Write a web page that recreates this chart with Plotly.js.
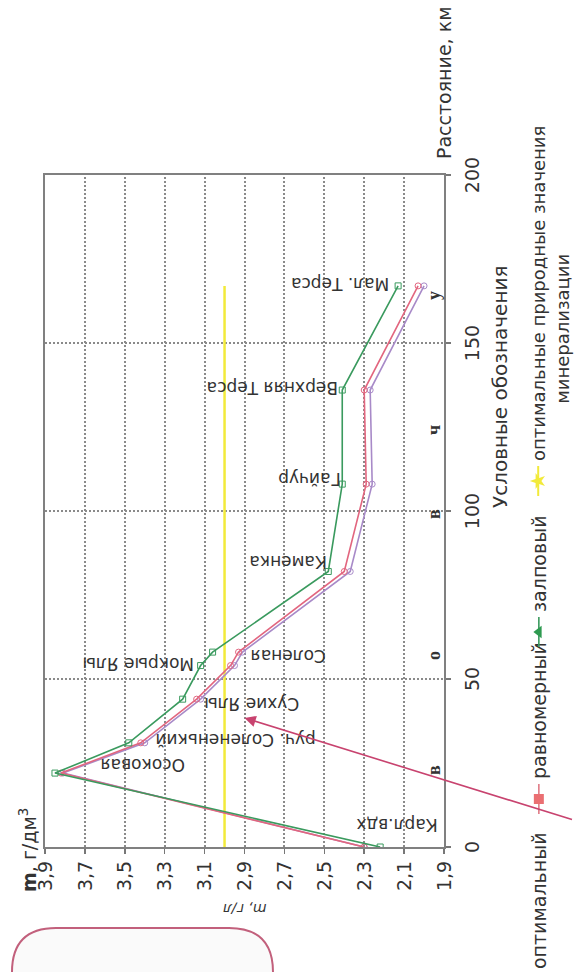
<!DOCTYPE html>
<html>
<head>
<meta charset="utf-8">
<script src="https://cdn.plot.ly/plotly-3.0.1.min.js"></script>
<style>
html,body{margin:0;padding:0;background:#fff;overflow:hidden;width:574px;height:972px;}
#wrap{position:absolute;left:0;top:0;width:972px;height:574px;transform-origin:0 0;transform:translate(0,972px) rotate(-90deg);}
</style>
</head>
<body>
<div id="wrap"></div>
<script>
// ---- data ----
const stations = ['Карл.вдх','Осоковая','руч. Солененький','Сухие Ялы','Мокрые Ялы','Соленая','Каменка','Гайчур','Верхняя Терса','Мал. Терса'];
const distanceKm = [0, 22, 31, 44, 54, 58, 82, 108, 136, 167];
const optimalM  = [2.30, 3.81, 3.40, 3.12, 2.95, 2.91, 2.37, 2.26, 2.27, 2.00];
const uniformM  = [2.30, 3.82, 3.42, 3.14, 2.97, 2.93, 2.40, 2.29, 2.30, 2.03];
const salvoM    = [2.22, 3.85, 3.48, 3.21, 3.12, 3.06, 2.48, 2.41, 2.41, 2.13];
const naturalKm = [0, 167];
const naturalM  = [3.0, 3.0];
const seriesNames = ['оптимальный','равномерный','залповый','оптимальные природные значения'];
const seriesNames2 = 'минерализации';
const kmTicks = [0, 50, 100, 150, 200];
const mTicks = [1.9, 2.1, 2.3, 2.5, 2.7, 2.9, 3.1, 3.3, 3.5, 3.7, 3.9];
const zoneLetters = ['в','о','в','ч','у'];
const zoneKm = [23, 57, 99, 124, 164];

// ---- text label positions (layout) ----
const labelKm = [6.5, 24.4, 31.8, 42.6, 54.5, 56.8, 84.8, 109.5, 136.6, 167.6];
const labelM  = [2.136, 3.409, 2.943, 2.862, 3.434, 2.682, 2.682, 2.577, 2.762, 2.421];

const cPurple = '#a88ac8', cRed = '#e2667f', cGreen = '#3a9a5e', cYellow = '#f2ea3a';

const traces = [
  {x: naturalKm, y: naturalM, mode:'lines', line:{color:cYellow, width:2.5}, showlegend:false, hoverinfo:'skip'},
  {x: distanceKm, y: optimalM, mode:'lines+markers', line:{color:cPurple, width:1.6},
   marker:{symbol:'circle-open', size:6, color:cPurple}, showlegend:false},
  {x: distanceKm, y: uniformM, mode:'lines+markers', line:{color:cRed, width:1.6},
   marker:{symbol:'circle-open', size:6, color:cRed}, showlegend:false},
  {x: distanceKm, y: salvoM, mode:'lines+markers', line:{color:cGreen, width:1.6},
   marker:{symbol:'square-open', size:6, color:cGreen}, showlegend:false},
  // legend entries
  {x:[null], y:[null], mode:'lines+markers', name:seriesNames[0], legend:'legend', line:{color:cPurple,width:1.6}, marker:{symbol:'circle', size:9, color:cPurple}},
  {x:[null], y:[null], mode:'lines+markers', name:seriesNames[1], legend:'legend2', line:{color:'#e07a86',width:1.6}, marker:{symbol:'square', size:10, color:'#ea6f72'}},
  {x:[null], y:[null], mode:'lines+markers', name:seriesNames[2], legend:'legend3', line:{color:cGreen,width:1.6}, marker:{symbol:'triangle-up', size:11, color:'#2e9a50'}},
  {x:[null], y:[null], mode:'lines+markers', name:seriesNames[3]+'<br>'+'\u00a0'.repeat(10)+seriesNames2, legend:'legend4', line:{color:cYellow,width:2}, marker:{symbol:'star', size:12, color:cYellow}}
];

const annotations = [];
stations.forEach((s,i)=>{
  annotations.push({x:labelKm[i], y:labelM[i], xref:'x', yref:'y', text:s, showarrow:false,
    textangle:-90, xanchor:'center', yanchor:'middle', font:{family:'DejaVu Sans', size:17, color:'#333'}});
});
zoneLetters.forEach((t,i)=>{
  annotations.push({x:zoneKm[i], y:1.95, xref:'x', yref:'y', text:'<b>'+t+'</b>', showarrow:false,
    xanchor:'center', yanchor:'middle', font:{family:'Liberation Serif', size:18, color:'#333'}});
});
function px(X){return (X-125)/672;}
function py(Y){return (444-Y)/399;}
annotations.push({x:px(889), y:py(444), xref:'paper', yref:'paper', text:'Расстояние, км', showarrow:false,
  xanchor:'center', yanchor:'middle', font:{family:'DejaVu Sans', size:19, color:'#333'}});
annotations.push({x:px(122), y:py(28), xref:'paper', yref:'paper', text:'<b>m</b>, г/дм<sup>3</sup>', showarrow:false,
  xanchor:'center', yanchor:'middle', font:{family:'DejaVu Sans', size:19, color:'#333'}});
annotations.push({x:px(63), y:0.5, xref:'paper', yref:'paper', text:'<i>m, г/л</i>', showarrow:false, textangle:-90,
  xanchor:'center', yanchor:'middle', font:{family:'DejaVu Sans', size:14, color:'#333'}});
annotations.push({x:px(585), y:py(500), xref:'paper', yref:'paper', text:'Условные обозначения', showarrow:false,
  xanchor:'center', yanchor:'middle', font:{family:'DejaVu Sans', size:20, color:'#333'}});
annotations.push({x:38.4, y:2.9, xref:'x', yref:'y', text:'', showarrow:true, axref:'pixel', ayref:'pixel',
  ax:-102, ay:329, arrowcolor:'#c8436f', arrowwidth:1.6, arrowhead:2, arrowsize:1.4});

function P(X,Y){return px(X).toFixed(4)+','+py(Y).toFixed(4);}
const boxPath = 'M'+P(-30,12)+' L'+P(0,12)+' Q'+P(44,12)+' '+P(44,56)+' L'+P(44,229)+' Q'+P(44,273)+' '+P(0,273)+' L'+P(-30,273)+' Z';

const axisCommon = {showline:true, linecolor:'#808080', linewidth:2, mirror:true, ticks:'outside', ticklen:5,
  tickcolor:'#777', tickwidth:1.5, showgrid:true, gridcolor:'#8a8a8a', gridwidth:2, griddash:'2px,2px',
  zeroline:false, tickfont:{family:'DejaVu Sans', size:19, color:'#333'}};

const legendFont = {family:'DejaVu Sans', size:19, color:'#333'};
const legendY = py(520);
function leg(L, extra){
  return Object.assign({orientation:'h', x:px(L), xanchor:'left', y:legendY, yanchor:'top',
    bgcolor:'rgba(0,0,0,0)', font:legendFont, itemwidth:30}, extra||{});
}

const layout = {
  width:972, height:574,
  margin:{l:125, r:175, t:45, b:130, autoexpand:false},
  paper_bgcolor:'#fff', plot_bgcolor:'#fff',
  separators:', ',
  font:{family:'DejaVu Sans', size:17, color:'#333'},
  xaxis:Object.assign({}, axisCommon, {range:[0,200], tickvals:kmTicks, ticklabelstandoff:5}),
  yaxis:Object.assign({}, axisCommon, {range:[1.9,3.9], tickvals:mTicks, tickformat:'.1f', ticklabelstandoff:3}),
  legend:leg(-37),
  legend2:leg(153),
  legend3:leg(320),
  legend4:leg(471, {valign:'top', font:{family:'DejaVu Sans', size:18, color:'#333'}}),
  shapes:[{type:'path', xref:'paper', yref:'paper', path:boxPath, line:{color:'#c2607c', width:2}, fillcolor:'#fafafa', layer:'below'}],
  annotations:annotations
};

Plotly.newPlot('wrap', traces, layout, {displayModeBar:false, staticPlot:true});
</script>
</body>
</html>
